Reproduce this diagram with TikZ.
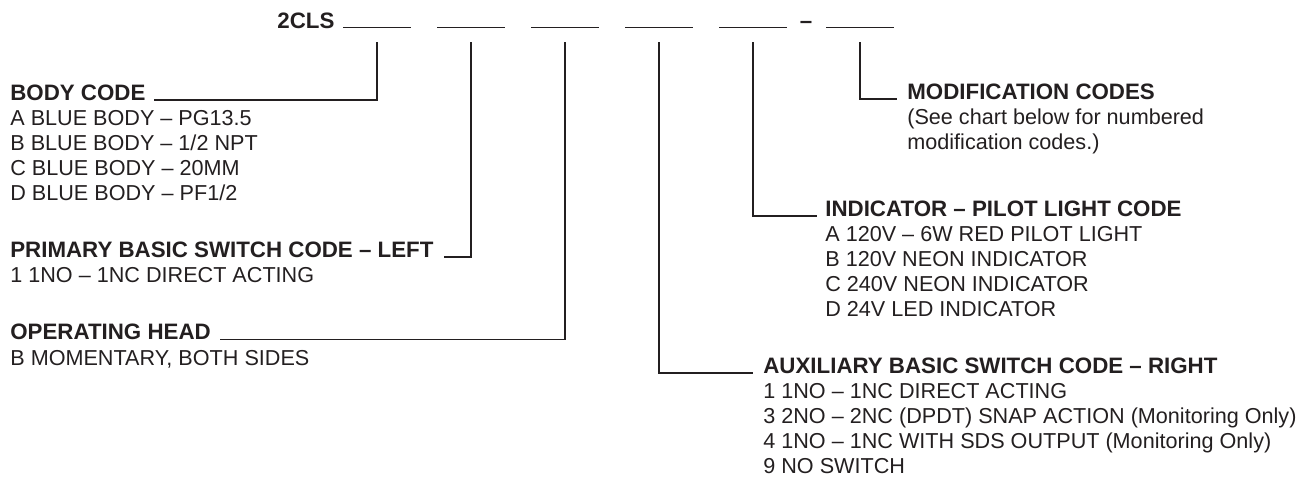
\documentclass[tikz,border=0pt]{standalone}
\usepackage{fontspec}
\setmainfont{Liberation Sans}
\usetikzlibrary{positioning}
\definecolor{codeInk}{HTML}{231F20}

\begin{document}
\begin{tikzpicture}[x=0.02cm,y=-0.02cm,
    every node/.style={inner sep=0pt,text=codeInk},
    hdr/.style={anchor=base west,font=\fontsize{12.7}{14.23}\selectfont\bfseries},
    opts/.style={anchor=base west,align=left,
                 font=\fontsize{12.3}{14.23}\selectfont},
    blank/.style={draw=codeInk,line width=1pt},
    lead/.style={draw=codeInk,line width=1pt}]
  \useasboundingbox (0,0) rectangle (1311,478);

  % catalogue number with its blanks
  \node[hdr] (pn) at (277,28) {2CLS};
  \node[hdr,anchor=base] (dash) at (806,28) {–};
  \foreach \i/\x in {1/343,2/437,3/531,4/625,5/719,6/826}{
    \draw[blank] (\x,27.5) -- ++(68,0);
    \coordinate (t\i) at (\x+34,42);
  }

  % left column (option lists sit on the baseline of their last line)
  \node[hdr]  (bodyhd)   at (10,100) {BODY CODE};
  \node[opts] (bodyopts) at (10,200)
    {A BLUE BODY – PG13.5\\B BLUE BODY – 1/2 NPT\\C BLUE BODY – 20MM\\D BLUE BODY – PF1/2};
  \node[hdr]  (prihd)    at (10,257) {PRIMARY BASIC SWITCH CODE – LEFT};
  \node[opts] (priopts)  at (10,282) {1 1NO – 1NC DIRECT ACTING};
  \node[hdr]  (headhd)   at (10,339.5) {OPERATING HEAD};
  \node[opts] (headopts) at (10,365) {B MOMENTARY, BOTH SIDES};

  % right column
  \node[hdr]  (modhd)    at (907,99) {MODIFICATION CODES};
  \node[opts] (modopts)  at (907,149)
    {(See chart below for numbered\\modification codes.)};
  \node[hdr]  (indhd)    at (825,216) {INDICATOR – PILOT LIGHT CODE};
  \node[opts] (indopts)  at (825,316)
    {A 120V – 6W RED PILOT LIGHT\\B 120V NEON INDICATOR\\C 240V NEON INDICATOR\\D 24V LED INDICATOR};
  \node[hdr]  (auxhd)    at (763,373) {AUXILIARY BASIC SWITCH CODE – RIGHT};
  \node[opts] (auxopts)  at (763,473)
    {1 1NO – 1NC DIRECT ACTING\\3 2NO – 2NC (DPDT) SNAP ACTION (Monitoring Only)\\4 1NO – 1NC WITH SDS OUTPUT (Monitoring Only)\\9 NO SWITCH};

  % leaders
  \draw[lead] (t1) |- ([xshift=0.16cm]bodyhd.base east);
  \draw[lead] (t2) |- ([xshift=0.2cm]prihd.base east);
  \draw[lead] (t3) |- ([xshift=0.18cm]headhd.base east);
  \draw[lead] (t4) |- ([xshift=-0.2cm]auxhd.base west);
  \draw[lead] (t5) |- ([xshift=-0.16cm]indhd.base west);
  \draw[lead] (t6) |- ([xshift=-0.2cm]modhd.base west);
\end{tikzpicture}
\end{document}
